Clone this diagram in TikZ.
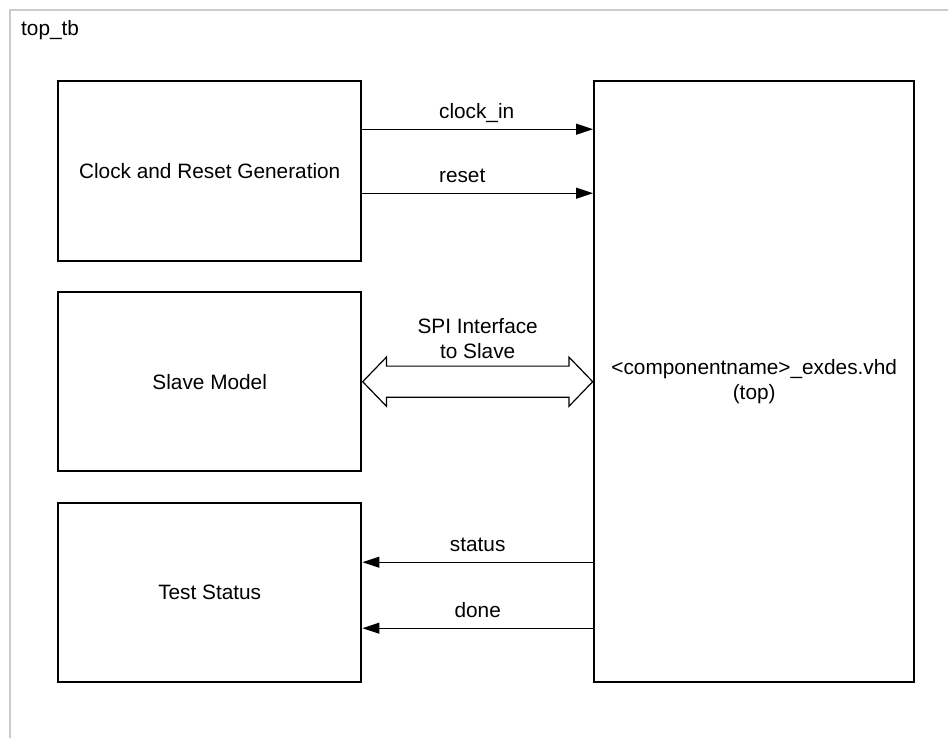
\documentclass[tikz,border=0pt]{standalone}
\usepackage{fontspec}
\setmainfont{Liberation Sans}
\usetikzlibrary{arrows.meta,shapes.arrows,positioning}

\begin{document}
\begin{tikzpicture}[x=1pt, y=-1pt, line join=miter,
    font=\fontsize{20.8}{25}\selectfont,
    blk/.style={draw, line width=2.4pt, anchor=north west, inner sep=0pt, align=center},
    sig/.style={line width=1.2pt, -{Triangle[length=17pt, width=11pt]}},
    lbl/.style={inner sep=0pt, text depth=0pt, anchor=base, yshift=11pt},
    spiarrow/.style={draw, line width=1.2pt, shape=double arrow, inner xsep=0pt, inner ysep=15pt,
        double arrow head extend=9pt, double arrow tip angle=92, minimum height=230pt}]
    \useasboundingbox (0,0) rectangle (948,738);
    \draw[gray!40, line width=2.5pt] (960,10) -| (10,750);
    \node[anchor=base west, inner sep=0pt] (tbname) at (21,36) {top\_tb};
    \node[blk, minimum width=303pt, minimum height=180pt] (clk) at (57,80) {Clock and Reset Generation};
    \node[blk, minimum width=303pt, minimum height=179pt] (slv) at (57,291) {Slave Model};
    \node[blk, minimum width=303pt, minimum height=179pt] (tst) at (57,502) {Test Status};
    \node[blk, minimum width=320pt, minimum height=601pt] (top) at (593,80)
        {\textless componentname\textgreater\_exdes.vhd\\(top)};
    \coordinate (clkin) at ([yshift=42pt]clk.east);
    \coordinate (rst) at ([yshift=-22pt]clk.east);
    \coordinate (stat) at ([yshift=30.5pt]tst.east);
    \coordinate (dn) at ([yshift=-35.5pt]tst.east);
    \draw[sig] (clkin) -- (top.west |- clkin) node[lbl, pos=0.33, anchor=base west] {clock\_in};
    \draw[sig] (rst) -- (top.west |- rst) node[lbl, pos=0.33, anchor=base west] {reset};
    \draw[sig] (top.west |- stat) -- (stat) node[lbl, midway] {status};
    \draw[sig] (top.west |- dn) -- (dn) node[lbl, midway] {done};
    \path (slv.east) -- (top.west |- slv.east) node[spiarrow, midway] (spi) {};
    \node[align=center, inner sep=0pt, above=7pt of spi] (spitxt) {SPI Interface\\to Slave};
\end{tikzpicture}
\end{document}
